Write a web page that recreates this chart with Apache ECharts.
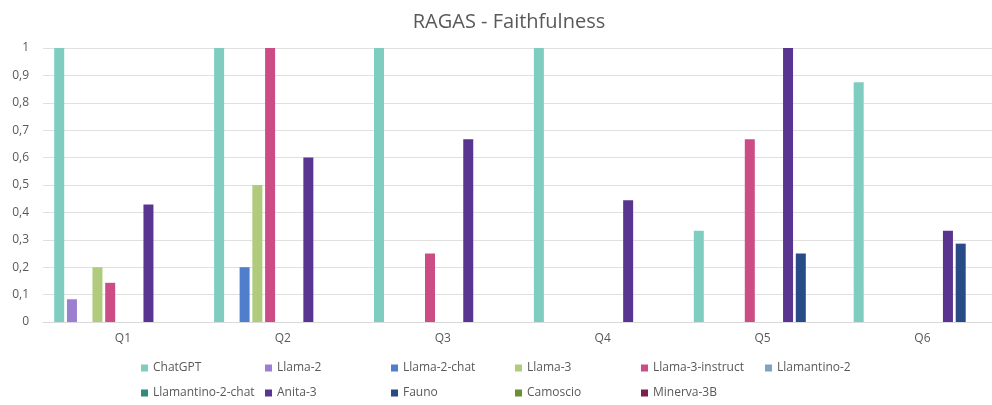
<!DOCTYPE html>
<html>
<head>
<meta charset="utf-8">
<script src="https://cdn.jsdelivr.net/npm/echarts@6/dist/echarts.min.js"></script>
<style>html,body{margin:0;padding:0;background:#fff;overflow:hidden}#c{width:1018px;height:405px}</style>
</head>
<body>
<div id="c"></div>
<script>
const categories = ['Q1', 'Q2', 'Q3', 'Q4', 'Q5', 'Q6'];
const seriesNames = ['ChatGPT', 'Llama-2', 'Llama-2-chat', 'Llama-3', 'Llama-3-instruct', 'Llamantino-2',
  'Llamantino-2-chat', 'Anita-3', 'Fauno', 'Camoscio', 'Minerva-3B'];
const colors = ['#7FCDC0', '#9B7FD0', '#4F7FCC', '#B0CB7C', '#CC4C86', '#7FA3C3',
  '#2E8C7C', '#5A3590', '#284B87', '#6A8E34', '#7D1F4E'];
const chatgpt = [1, 1, 1, 1, 0.333, 0.875];
const llama2 = [0.083, 0, 0, 0, 0, 0];
const llama2chat = [0, 0.2, 0, 0, 0, 0];
const llama3 = [0.2, 0.5, 0, 0, 0, 0];
const llama3instruct = [0.143, 1, 0.25, 0, 0.667, 0];
const llamantino2 = [0, 0, 0, 0, 0, 0];
const llamantino2chat = [0, 0, 0, 0, 0, 0];
const anita3 = [0.429, 0.6, 0.667, 0.444, 1, 0.333];
const fauno = [0, 0, 0, 0, 0.25, 0.286];
const camoscio = [0, 0, 0, 0, 0, 0];
const minerva3b = [0, 0, 0, 0, 0, 0];
const yTicks = [0, 0.1, 0.2, 0.3, 0.4, 0.5, 0.6, 0.7, 0.8, 0.9, 1];

const values = [chatgpt, llama2, llama2chat, llama3, llama3instruct, llamantino2,
  llamantino2chat, anita3, fauno, camoscio, minerva3b];

const font = 'Open Sans';
const chart = echarts.init(document.getElementById('c'));
const legendText = {color: '#595959', fontSize: 12, fontFamily: font};
const colLeft = [141, 265, 391, 515, 641, 765];
const rowTop = [362, 387];
const legends = seriesNames.map((n, i) => ({
  data: [n], left: colLeft[i % 6], top: rowTop[Math.floor(i / 6)],
  itemWidth: 7, itemHeight: 7, icon: 'rect', padding: 0, textStyle: legendText
}));
chart.setOption({
  animation: false,
  title: {
    text: 'RAGAS - Faithfulness', left: 'center', top: 7,
    textStyle: {color: '#595959', fontSize: 20, fontWeight: 'normal', fontFamily: font}
  },
  legend: legends,
  grid: {left: 43, top: 48, bottom: 83, right: 15.6, containLabel: false},
  xAxis: {
    type: 'category', data: categories,
    axisLine: {lineStyle: {color: '#D9D9D9'}},
    axisTick: {show: false},
    axisLabel: {color: '#595959', fontSize: 12, fontFamily: font, margin: 11}
  },
  yAxis: {
    type: 'value', min: 0, max: 1, interval: 0.1,
    axisLine: {show: false}, axisTick: {show: false},
    splitLine: {lineStyle: {color: '#E0E0E0'}},
    axisLabel: {
      color: '#595959', fontSize: 12, fontFamily: font, margin: 14,
      formatter: v => {
        const t = yTicks.find(x => Math.abs(x - v) < 1e-9);
        return String(t !== undefined ? t : v).replace('.', ',');
      }
    }
  },
  series: seriesNames.map((n, i) => ({
    name: n, type: 'bar', data: values[i], barWidth: 10, barGap: '27.5%',
    itemStyle: {color: colors[i]}
  }))
});
</script>
</body>
</html>
